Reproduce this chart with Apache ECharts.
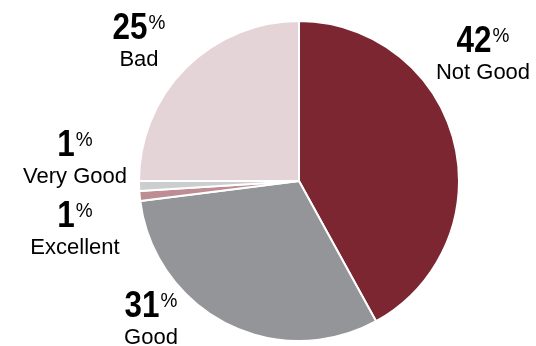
<!DOCTYPE html>
<html>
<head>
<meta charset="utf-8">
<script src="https://cdn.jsdelivr.net/npm/echarts@6/dist/echarts.min.js"></script>
<style>
  html, body { margin: 0; padding: 0; background: #fff; }
  #chart { width: 536px; height: 346px; }
</style>
</head>
<body>
<div id="chart"></div>
<script>
// Survey rating shares, clockwise from 12 o'clock
const categories = ['Not Good', 'Good', 'Excellent', 'Very Good', 'Bad'];
const shares = [42, 31, 1, 1, 25];

// Slice fills
const sliceColors = ['#7b2631', '#939598', '#bd8d93', '#cbcdce', '#e5d4d7'];

// Label anchors: [centre x, baseline y of the big figure]
const labelSpots = [
  [483, 53],  // Not Good
  [151, 318], // Good
  [75, 228],  // Excellent
  [75, 157],  // Very Good
  [139, 40]   // Bad
];

const FONT = "'Liberation Sans', Arial, sans-serif";
const NUM_SIZE = 37, NUM_SQUEEZE = 0.85;
const PCT_SIZE = 20, PCT_SQUEEZE = 0.95;
const NAME_SIZE = 22;
const NUDGE = 2.5; // canvas 'middle' sits a little above the cap centre

// text width helper for centring the condensed figure + % pair
const measureCtx = document.createElement('canvas').getContext('2d');
function textWidth(str, size, weight) {
  measureCtx.font = weight + ' ' + size + 'px ' + FONT;
  return measureCtx.measureText(str).width;
}

// Big figure with superscript %, and the rating name beneath it
function labelGraphics() {
  const out = [];
  categories.forEach((name, i) => {
    const cx = labelSpots[i][0], base = labelSpots[i][1];
    const num = String(shares[i]);
    const numW = textWidth(num, NUM_SIZE, 'bold') * NUM_SQUEEZE;
    const pctW = textWidth('%', PCT_SIZE, 'normal') * PCT_SQUEEZE;
    const gap = 1;
    const left = cx - (numW + gap + pctW) / 2;
    const capTop = base - 0.716 * NUM_SIZE;
    out.push({
      type: 'text', x: left, y: base - 0.358 * NUM_SIZE + NUDGE, scaleX: NUM_SQUEEZE,
      style: {
        text: num, fontFamily: FONT, fontWeight: 'bold', fontSize: NUM_SIZE,
        fill: '#000', align: 'left', verticalAlign: 'middle'
      }
    });
    out.push({
      type: 'text', x: left + numW + gap, y: capTop + 0.358 * PCT_SIZE + NUDGE, scaleX: PCT_SQUEEZE,
      style: {
        text: '%', fontFamily: FONT, fontWeight: 'normal', fontSize: PCT_SIZE,
        fill: '#000', align: 'left', verticalAlign: 'middle'
      }
    });
    out.push({
      type: 'text', x: cx, y: base + 25 - 0.358 * NAME_SIZE + NUDGE,
      style: {
        text: name, fontFamily: FONT, fontSize: NAME_SIZE,
        fill: '#000', align: 'center', verticalAlign: 'middle'
      }
    });
  });
  return out;
}

const chart = echarts.init(document.getElementById('chart'), null, { renderer: 'canvas' });

chart.setOption({
  backgroundColor: '#ffffff',
  animation: false,
  graphic: { elements: labelGraphics() },
  series: [{
    type: 'pie',
    center: [299, 181],
    radius: [0, 160],
    startAngle: 90,
    clockwise: true,
    itemStyle: { borderColor: '#ffffff', borderWidth: 2 },
    label: { show: false },
    labelLine: { show: false },
    data: categories.map((name, i) => ({
      name: name,
      value: shares[i],
      itemStyle: { color: sliceColors[i] }
    }))
  }]
});
</script>
</body>
</html>
